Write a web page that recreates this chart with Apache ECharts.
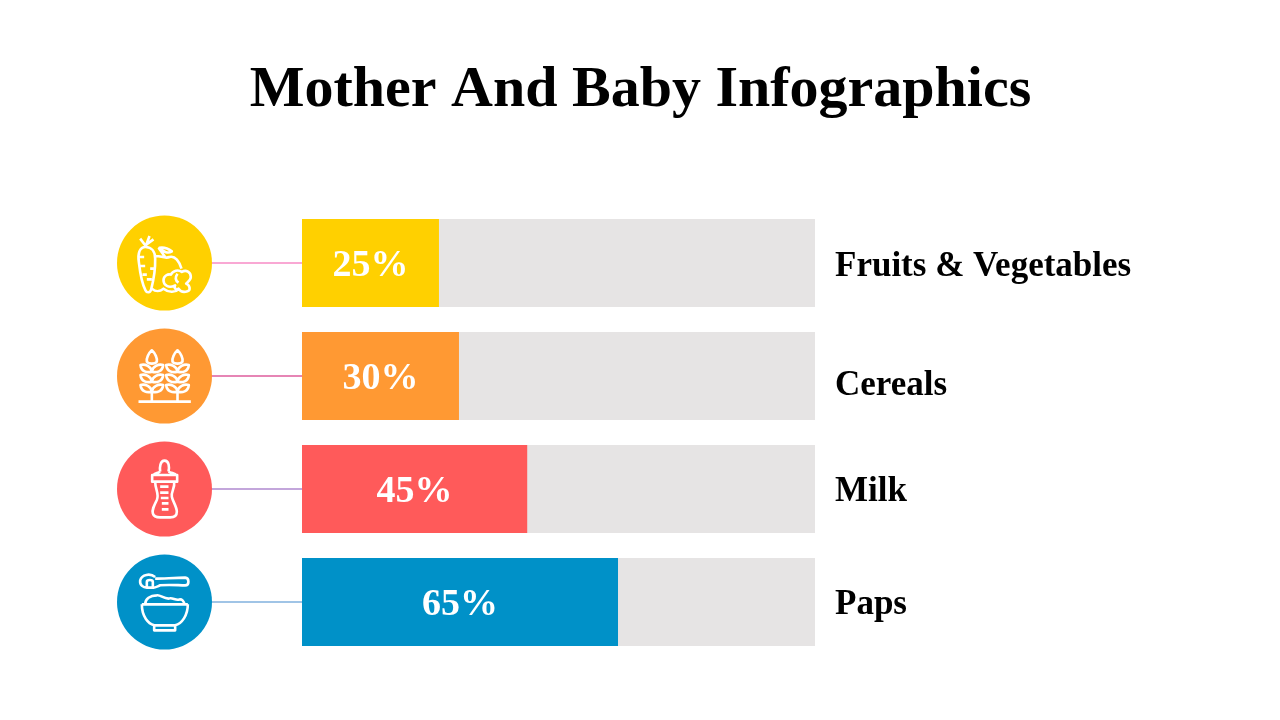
<!DOCTYPE html>
<html><head><meta charset="utf-8">
<style>html,body{margin:0;padding:0;background:#fff}#c{width:1280px;height:720px}</style>
<script src="https://cdn.jsdelivr.net/npm/echarts@6/dist/echarts.min.js"></script>
</head><body><div id="c"></div>
<script>
const titleText = 'Mother And Baby Infographics';
const categories = ['Fruits & Vegetables', 'Cereals', 'Milk', 'Paps'];
const barLengths = [26.7, 30.6, 43.9, 61.6];
const percentLabels = ['25%', '30%', '45%', '65%'];
const barColors = ['#FFD000', '#FF9933', '#FF5A5A', '#0091C8'];
const connectorColors = ['#F9A8D4', '#E685B5', '#C3A6DB', '#A0C4E6'];
const nameShift = [3.5, 9.5, 2.5, 2.5];
const FONT = '"Liberation Serif", serif';

function frame(cx, cy) {
  const r = 142.5;
  return `M${cx - r} ${cy - r}h0.01M${cx + r} ${cy + r}h0.01`;
}
function wheat(x, cy) {
  const grain = (dy) => {
    const y = cy + dy;
    return `M${x} ${y}C${x - 14} ${y + 4} ${x - 32} ${y} ${x - 34} ${y - 20}C${x - 20} ${y - 24} ${x - 2} ${y - 16} ${x} ${y}Z` +
           `M${x} ${y}C${x + 14} ${y + 4} ${x + 32} ${y} ${x + 34} ${y - 20}C${x + 20} ${y - 24} ${x + 2} ${y - 16} ${x} ${y}Z`;
  };
  return `M${x} ${cy + 77}V${cy + 47}` +
    `M${x} ${cy - 77}C${x - 10} ${cy - 68} ${x - 17} ${cy - 53} ${x - 15} ${cy - 43}C${x - 10} ${cy - 35} ${x + 10} ${cy - 35} ${x + 15} ${cy - 43}C${x + 17} ${cy - 53} ${x + 10} ${cy - 68} ${x} ${cy - 77}Z` +
    grain(-13) + grain(17) + grain(47);
}
const iconPaths = [
  frame(193, 173) +
    'M136 125C118 125 112 145 116 170C120 205 128 240 136 255C140 263 150 263 153 252C160 225 166 195 165 160C165 140 155 125 136 125Z' +
    'M137 122L120 100M137 122L148 92M139 117L160 102' +
    'M118 155H132M120 182H135M127 208H140M140 222H155M150 190H165' +
    'M165 152C180 150 195 162 208 155C225 150 238 170 244 190M195 155L175 127' +
    'M178 127C190 125 205 130 215 138C205 145 190 142 178 127Z' +
    'M155 250C170 262 180 258 190 250C205 262 225 262 235 252' +
    'M190 225C190 210 205 205 212 208C218 195 235 192 245 200C258 192 272 200 272 215C272 225 262 230 258 235C270 240 272 255 262 258C250 262 240 258 235 250C228 258 220 245 225 240C205 250 190 240 190 225Z' +
    'M232 205C225 215 225 225 235 232',
  frame(193, 513) + 'M115 590H272' + wheat(155, 513) + wheat(232, 513),
  frame(193, 177) +
    'M180 125C178 112 180 92 193 92C207 92 208 112 205 125' +
    'M180 125C170 130 165 130 160 135M205 125C215 130 225 130 228 135' +
    'M156 135H231V155H156Z' +
    'M165 155C165 180 178 190 170 210C160 230 155 240 158 250C160 258 170 262 180 262H210C225 262 230 255 230 245C230 230 218 215 215 200C212 185 225 175 222 155' +
    'M180 170H205M180 188H205M182 204H205M185 220H205M185 238H205',
  frame(193, 515) +
    'M165 440C150 428 125 432 120 450C118 465 130 472 140 472H160' +
    'M140 472V455C140 447 158 447 158 455V472' +
    'M165 445C190 445 225 442 255 442C268 443 268 465 255 465C235 465 205 462 180 465C172 468 165 472 160 472' +
    'M125 522H263M125 522C125 560 145 580 162 585H225C245 580 263 555 263 522' +
    'M162 585V600H225V585' +
    'M135 522C135 505 150 495 170 495C180 493 190 505 205 505C215 500 225 510 235 508C245 505 252 512 252 522'
];

const chart = echarts.init(document.getElementById('c'), null, {renderer: 'canvas'});

function renderRow(params, api) {
  const i = api.value(1);
  const p = api.coord([0, i]);
  const g = params.coordSys;
  const cx = g.x - 137.5, cy = p[1], r = 47.5;
  return {
    type: 'group',
    children: [
      {type: 'line', shape: {x1: cx + r - 2, y1: cy, x2: g.x, y2: cy},
        style: {stroke: connectorColors[i], lineWidth: 2}},
      {type: 'circle', shape: {cx: cx, cy: cy, r: r}, style: {fill: barColors[i]}},
      {type: 'path',
        shape: {pathData: iconPaths[i], layout: 'cover', x: cx - r, y: cy - r, width: 2 * r, height: 2 * r},
        style: {fill: 'none', stroke: '#fff', lineWidth: 2.6, lineJoin: 'round'}},
      {type: 'text', x: g.x + g.width + 20, y: cy + nameShift[i],
        style: {text: categories[i], fill: '#000', font: 'bold 35px ' + FONT, textAlign: 'left', textVerticalAlign: 'middle'}}
    ]
  };
}

chart.setOption({
  animation: false,
  backgroundColor: '#fff',
  title: {
    text: titleText, left: 635.5, top: 57, textAlign: 'center',
    textStyle: {fontFamily: FONT, fontWeight: 'bold', fontSize: 58, color: '#000'}
  },
  grid: {left: 302, top: 206.5, width: 513, height: 452, containLabel: false},
  xAxis: {type: 'value', min: 0, max: 100, show: false},
  yAxis: {type: 'category', data: categories, inverse: true, show: false},
  series: [
    {
      type: 'bar', barWidth: 88, showBackground: true,
      backgroundStyle: {color: '#E6E4E4'},
      data: barLengths.map((v, i) => ({value: v, itemStyle: {color: barColors[i]}})),
      label: {
        show: true, position: 'inside', color: '#fff', offset: [0, 3],
        fontFamily: FONT, fontWeight: 'bold', fontSize: 38,
        formatter: (p) => percentLabels[p.dataIndex]
      }
    },
    {
      type: 'custom', coordinateSystem: 'cartesian2d', clip: false, silent: true,
      encode: {x: 0, y: 1},
      data: categories.map((c, i) => [0, i]),
      renderItem: renderRow
    }
  ]
});
</script></body></html>
